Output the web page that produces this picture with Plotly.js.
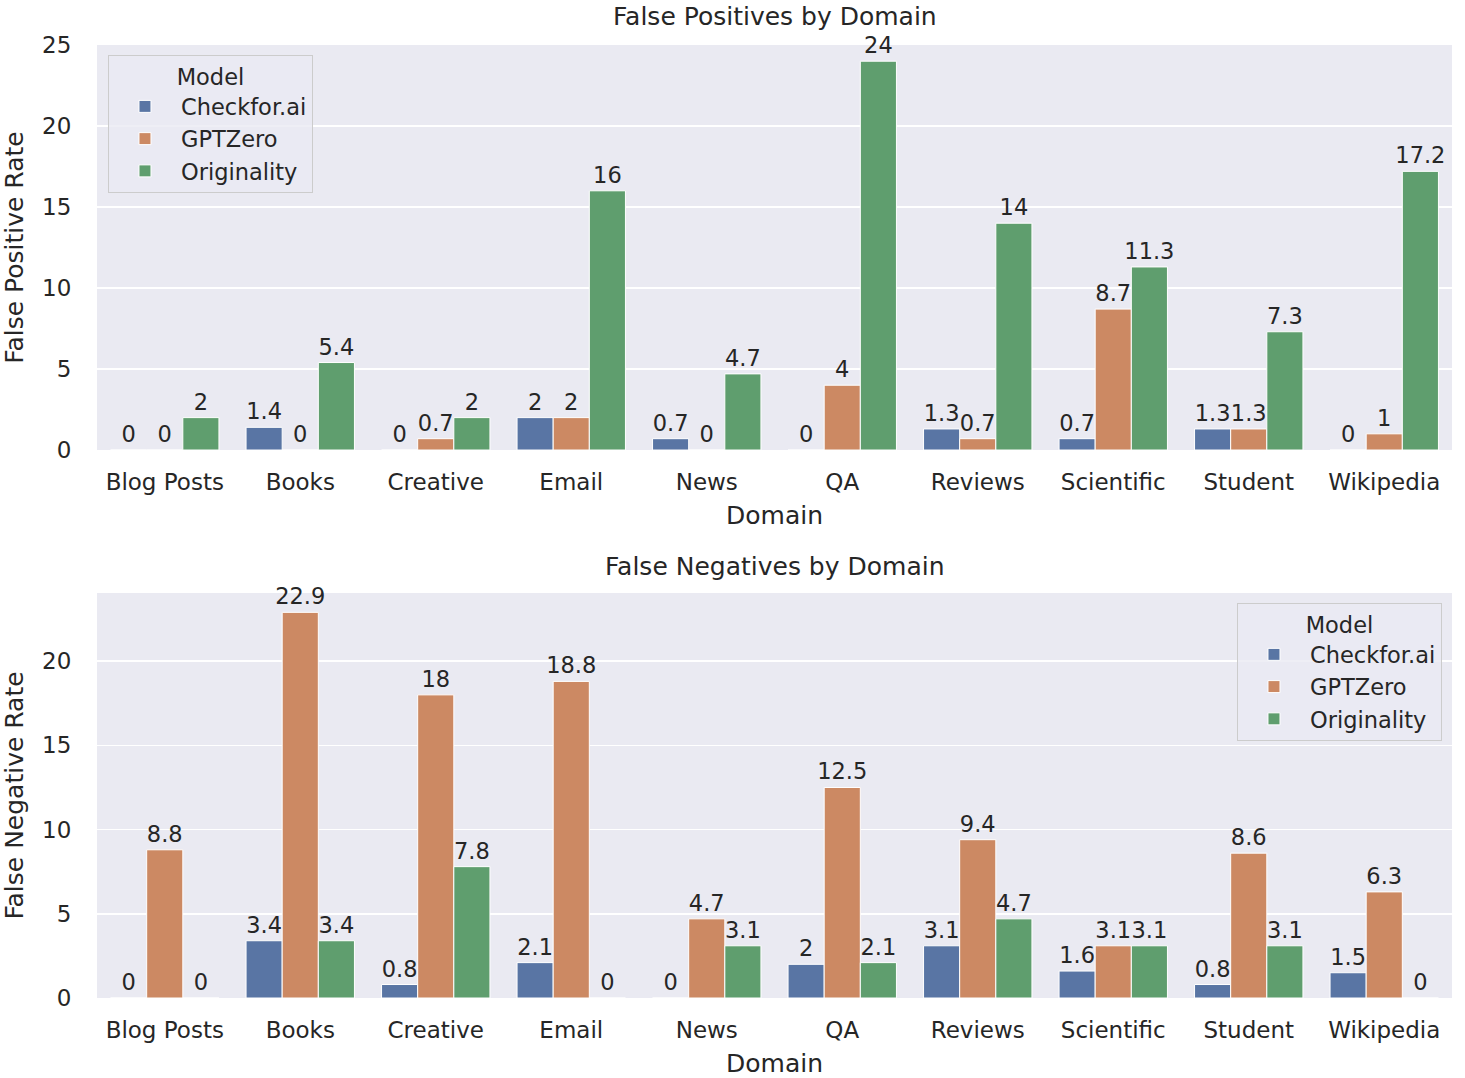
<!DOCTYPE html>
<html>
<head>
<meta charset="utf-8">
<script src="https://cdn.plot.ly/plotly-3.0.1.min.js"></script>
<style>html,body{margin:0;padding:0;background:#fff;}#chart{width:1465px;height:1078px;}</style>
</head>
<body>
<div id="chart"></div>
<script>
const domains = ["Blog Posts","Books","Creative","Email","News","QA","Reviews","Scientific","Student","Wikipedia"];
const models = ["Checkfor.ai","GPTZero","Originality"];

const fpCheckfor    = [0, 1.4, 0, 2, 0.7, 0, 1.3, 0.7, 1.3, 0];
const fpGPTZero     = [0, 0, 0.7, 2, 0, 4, 0.7, 8.7, 1.3, 1];
const fpOriginality = [2, 5.4, 2, 16, 4.7, 24, 14, 11.3, 7.3, 17.2];

const fnCheckfor    = [0, 3.4, 0.8, 2.1, 0, 2, 3.1, 1.6, 0.8, 1.5];
const fnGPTZero     = [8.8, 22.9, 18, 18.8, 4.7, 12.5, 9.4, 3.1, 8.6, 6.3];
const fnOriginality = [0, 3.4, 7.8, 0, 3.1, 2.1, 4.7, 3.1, 3.1, 0];

const colors = ["#5975A4", "#CC8963", "#5F9E6E"];
const FONT = "DejaVu Sans";
const TXT = "#262626";

function mk(vals, i, xa, ya, leg) {
  return {
    type: "bar", x: domains, y: vals, name: models[i],
    xaxis: xa, yaxis: ya, legend: leg,
    marker: {color: colors[i], line: {color: "#ffffff", width: 1}},
    text: vals.map(v => String(v)), textposition: "outside",
    constraintext: "none", cliponaxis: false,
    textfont: {family: FONT, size: 22.5, color: TXT},
    hoverinfo: "skip"
  };
}

const data = [
  mk(fpCheckfor, 0, "x", "y", "legend"),
  mk(fpGPTZero, 1, "x", "y", "legend"),
  mk(fpOriginality, 2, "x", "y", "legend"),
  mk(fnCheckfor, 0, "x2", "y2", "legend2"),
  mk(fnGPTZero, 1, "x2", "y2", "legend2"),
  mk(fnOriginality, 2, "x2", "y2", "legend2")
];

const tickFont = {family: FONT, size: 23, color: TXT};
const titleFont = {family: FONT, size: 25, color: TXT};

function xax(anchor) {
  return {
    anchor: anchor, domain: [0, 1], type: "category",
    range: [-0.5, 9.5], showgrid: false, zeroline: false, showline: false,
    ticks: "outside", ticklen: 11, tickcolor: "rgba(0,0,0,0)",
    tickfont: tickFont, automargin: false,
    title: {text: "Domain", font: titleFont, standoff: 12}
  };
}
function yax(anchor, dom, range, title) {
  return {
    anchor: anchor, domain: dom, range: range,
    showgrid: true, gridcolor: "#ffffff", gridwidth: 1.5,
    zeroline: false, showline: false,
    ticks: "outside", ticklen: 20, tickcolor: "rgba(0,0,0,0)",
    tickfont: tickFont, dtick: 5, tick0: 0, automargin: false,
    title: {text: title, font: titleFont, standoff: 12}
  };
}

const legendBase = {
  bgcolor: "rgba(234,234,242,0.8)", bordercolor: "#cccccc", borderwidth: 1,
  font: {family: FONT, size: 22.5, color: TXT},
  title: {text: "Model", side: "top center", font: {family: FONT, size: 22.5, color: TXT}},
  itemwidth: 62,
  itemclick: false, itemdoubleclick: false
};

const layout = {
  width: 1465, height: 1078,
  margin: {l: 97, r: 13, t: 45, b: 80},
  paper_bgcolor: "#ffffff", plot_bgcolor: "#EAEAF2",
  font: {family: FONT, color: TXT},
  barmode: "group", bargap: 0.2, bargroupgap: 0,
  hovermode: false, showlegend: true,
  xaxis: xax("y"),
  yaxis: yax("x", [0.575, 1], [0, 25], "False Positive Rate"),
  xaxis2: xax("y2"),
  yaxis2: yax("x2", [0, 0.425], [0, 24.05], "False Negative Rate"),
  legend: Object.assign({}, legendBase, {x: 0.0081, y: 0.9895, xanchor: "left", yanchor: "top"}),
  legend2: Object.assign({}, legendBase, {x: 0.9926, y: 0.4145, xanchor: "right", yanchor: "top"}),
  annotations: [
    {text: "False Positives by Domain", xref: "paper", yref: "paper", x: 0.5, y: 1.0294,
     xanchor: "center", yanchor: "middle", showarrow: false, font: titleFont},
    {text: "False Negatives by Domain", xref: "paper", yref: "paper", x: 0.5, y: 0.4533,
     xanchor: "center", yanchor: "middle", showarrow: false, font: titleFont}
  ]
};

Plotly.newPlot("chart", data, layout, {staticPlot: true, displayModeBar: false});
</script>
</body>
</html>
